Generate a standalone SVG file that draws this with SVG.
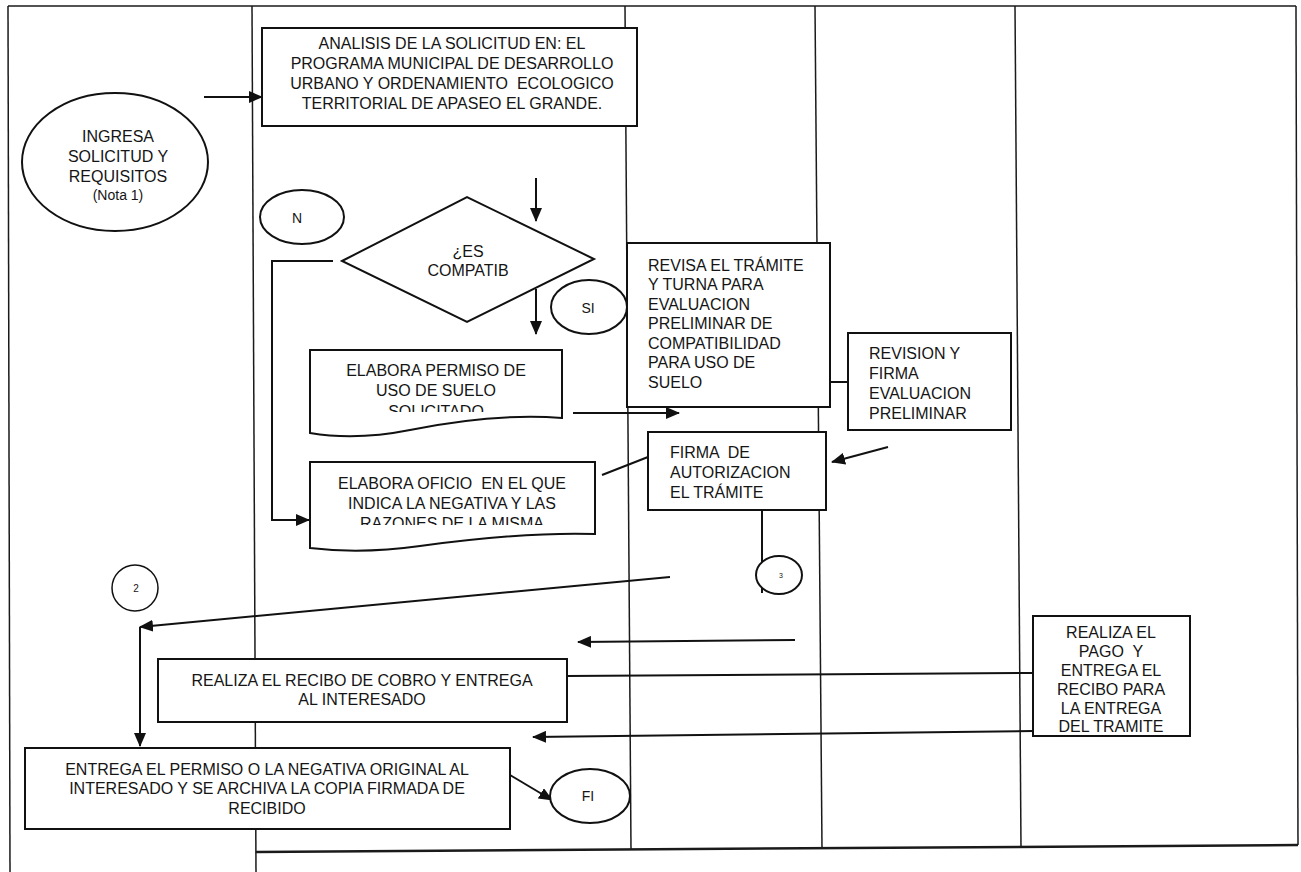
<svg xmlns="http://www.w3.org/2000/svg" width="1301" height="872" viewBox="0 0 1301 872">
<style>
.lane{stroke:#1a1a1a;stroke-width:1.5;fill:none}
.box{fill:#fff;stroke:#111;stroke-width:2}
.con{stroke:#111;stroke-width:2;fill:none}
.t{font-family:"Liberation Sans",Arial,sans-serif;font-size:16px;fill:#151515}
.c{text-anchor:middle}
.s{font-size:14px}
</style>
<defs>
<marker id="ah" markerUnits="userSpaceOnUse" markerWidth="14" markerHeight="12" refX="13" refY="6" orient="auto">
<path d="M0,0 L14,6 L0,12 z" fill="#111"/>
</marker>
<clipPath id="clipPermiso"><rect x="300" y="340" width="280" height="72"/></clipPath>
<clipPath id="clipOficio"><rect x="300" y="455" width="300" height="70"/></clipPath>
</defs>
<rect x="0" y="0" width="1301" height="872" fill="#fff"/>
<g id="frame">
<line class="lane" x1="8" y1="6" x2="1296" y2="6"/>
<line class="lane" x1="8" y1="6" x2="10" y2="872"/>
<line class="lane" x1="252" y1="6" x2="256" y2="872"/>
<line class="lane" x1="625" y1="6" x2="631" y2="850"/>
<line class="lane" x1="815" y1="6" x2="822" y2="849"/>
<line class="lane" x1="1015" y1="6" x2="1021" y2="848"/>
<line class="lane" x1="1296" y1="6" x2="1298" y2="845"/>
<line class="lane" x1="256" y1="852" x2="1298" y2="845" style="stroke-width:2.5"/>
</g>
<g id="connectors">
<line class="con" x1="204" y1="97" x2="262" y2="97" marker-end="url(#ah)"/>
<line class="con" x1="536" y1="178" x2="536" y2="221" marker-end="url(#ah)"/>
<line class="con" x1="536" y1="289" x2="536" y2="334" marker-end="url(#ah)"/>
<polyline class="con" points="333,261 272,261 272,520 309,520" marker-end="url(#ah)"/>
<line class="con" x1="573" y1="413" x2="679" y2="413" marker-end="url(#ah)"/>
<line class="con" x1="822" y1="382" x2="848" y2="382"/>
<line class="con" x1="888" y1="447" x2="832" y2="462" marker-end="url(#ah)"/>
<line class="con" x1="602" y1="475" x2="648" y2="457"/>
<line class="con" x1="762" y1="510" x2="762" y2="593"/>
<line class="con" x1="670" y1="577" x2="140" y2="627" marker-end="url(#ah)"/>
<line class="con" x1="140" y1="627" x2="140" y2="746" marker-end="url(#ah)"/>
<line class="con" x1="795" y1="640" x2="578" y2="642" marker-end="url(#ah)"/>
<line class="con" x1="567" y1="676" x2="1033" y2="673"/>
<line class="con" x1="1033" y1="731" x2="533" y2="737" marker-end="url(#ah)"/>
<line class="con" x1="510" y1="775" x2="552" y2="800" marker-end="url(#ah)"/>
</g>
<g id="ingresa">
<ellipse class="box" cx="115" cy="162" rx="93" ry="69"/>
<text class="t c" x="118" y="142">INGRESA</text>
<text class="t c" x="118" y="162">SOLICITUD Y</text>
<text class="t c" x="118" y="182">REQUISITOS</text>
<text class="t c s" x="118" y="200">(Nota 1)</text>
</g>
<g id="analisis">
<rect class="box" x="262" y="28" width="375" height="98"/>
<text class="t c" x="452" y="49">ANALISIS DE LA SOLICITUD EN: EL</text>
<text class="t c" x="452" y="69">PROGRAMA MUNICIPAL DE DESARROLLO</text>
<text class="t c" x="452" y="89" xml:space="preserve">URBANO Y ORDENAMIENTO  ECOLOGICO</text>
<text class="t c" x="452" y="109">TERRITORIAL DE APASEO EL GRANDE.</text>
</g>
<g id="no">
<ellipse class="box" cx="302" cy="217" rx="42" ry="27"/>
<text class="t s" x="292" y="223">N</text>
</g>
<g id="compatible">
<polygon class="box" points="342,261 467,197 594,259 467,322"/>
<text class="t c" x="468" y="257">¿ES</text>
<text class="t c" x="468" y="276">COMPATIB</text>
</g>
<g id="si">
<ellipse class="box" cx="589" cy="307" rx="38" ry="27"/>
<text class="t c s" x="588" y="313">SI</text>
</g>
<g id="permiso">
<path class="box" d="M310,350 H562 V418 C510,414 460,420 410,430 C370,438 340,438 310,433 Z"/>
<g clip-path="url(#clipPermiso)">
<text class="t c" x="436" y="376">ELABORA PERMISO DE</text>
<text class="t c" x="436" y="396">USO DE SUELO</text>
<text class="t c" x="436" y="417">SOLICITADO</text>
</g>
</g>
<g id="oficio">
<path class="box" d="M310,462 H595 V534 C540,532 480,538 420,546 C370,553 335,551 310,548 Z"/>
<g clip-path="url(#clipOficio)">
<text class="t c" x="452" y="489" xml:space="preserve">ELABORA OFICIO  EN EL QUE</text>
<text class="t c" x="452" y="509">INDICA LA NEGATIVA Y LAS</text>
<text class="t c" x="452" y="529">RAZONES DE LA MISMA</text>
</g>
</g>
<g id="revisa">
<rect class="box" x="627" y="243" width="203" height="164"/>
<text class="t" x="648" y="271">REVISA EL TRÁMITE</text>
<text class="t" x="648" y="290">Y TURNA PARA</text>
<text class="t" x="648" y="310">EVALUACION</text>
<text class="t" x="648" y="329">PRELIMINAR DE</text>
<text class="t" x="648" y="349">COMPATIBILIDAD</text>
<text class="t" x="648" y="368">PARA USO DE</text>
<text class="t" x="648" y="388">SUELO</text>
</g>
<g id="revision">
<rect class="box" x="848" y="333" width="163" height="97"/>
<text class="t" x="869" y="359">REVISION Y</text>
<text class="t" x="869" y="379">FIRMA</text>
<text class="t" x="869" y="399">EVALUACION</text>
<text class="t" x="869" y="419">PRELIMINAR</text>
</g>
<g id="firma">
<rect class="box" x="648" y="432" width="178" height="78"/>
<text class="t" x="670" y="458" xml:space="preserve">FIRMA  DE</text>
<text class="t" x="670" y="478">AUTORIZACION</text>
<text class="t" x="670" y="498">EL TRÁMITE</text>
</g>
<g id="conector-3">
<ellipse class="box" cx="779" cy="575" rx="23" ry="19"/>
<text class="t c" x="781" y="578" style="font-size:7px">3</text>
</g>
<g id="conector-2">
<circle class="box" cx="135" cy="588" r="23" style="stroke-width:1.5"/>
<text class="t c" x="136" y="592" style="font-size:10px">2</text>
</g>
<g id="recibo">
<rect class="box" x="158" y="659" width="409" height="63"/>
<text class="t c" x="362" y="686">REALIZA EL RECIBO DE COBRO Y ENTREGA</text>
<text class="t c" x="362" y="705">AL INTERESADO</text>
</g>
<g id="pago">
<rect class="box" x="1033" y="616" width="157" height="120"/>
<text class="t c" x="1111" y="638">REALIZA EL</text>
<text class="t c" x="1111" y="657" xml:space="preserve">PAGO  Y</text>
<text class="t c" x="1111" y="676">ENTREGA EL</text>
<text class="t c" x="1111" y="695">RECIBO PARA</text>
<text class="t c" x="1111" y="714">LA ENTREGA</text>
<text class="t c" x="1111" y="732">DEL TRAMITE</text>
</g>
<g id="entrega">
<rect class="box" x="25" y="748" width="485" height="81"/>
<text class="t c" x="267" y="775">ENTREGA EL PERMISO O LA NEGATIVA ORIGINAL AL</text>
<text class="t c" x="267" y="794">INTERESADO Y SE ARCHIVA LA COPIA FIRMADA DE</text>
<text class="t c" x="267" y="814">RECIBIDO</text>
</g>
<g id="fin">
<ellipse class="box" cx="590" cy="796" rx="40" ry="27"/>
<text class="t c s" x="588" y="801">FI</text>
</g>
</svg>
